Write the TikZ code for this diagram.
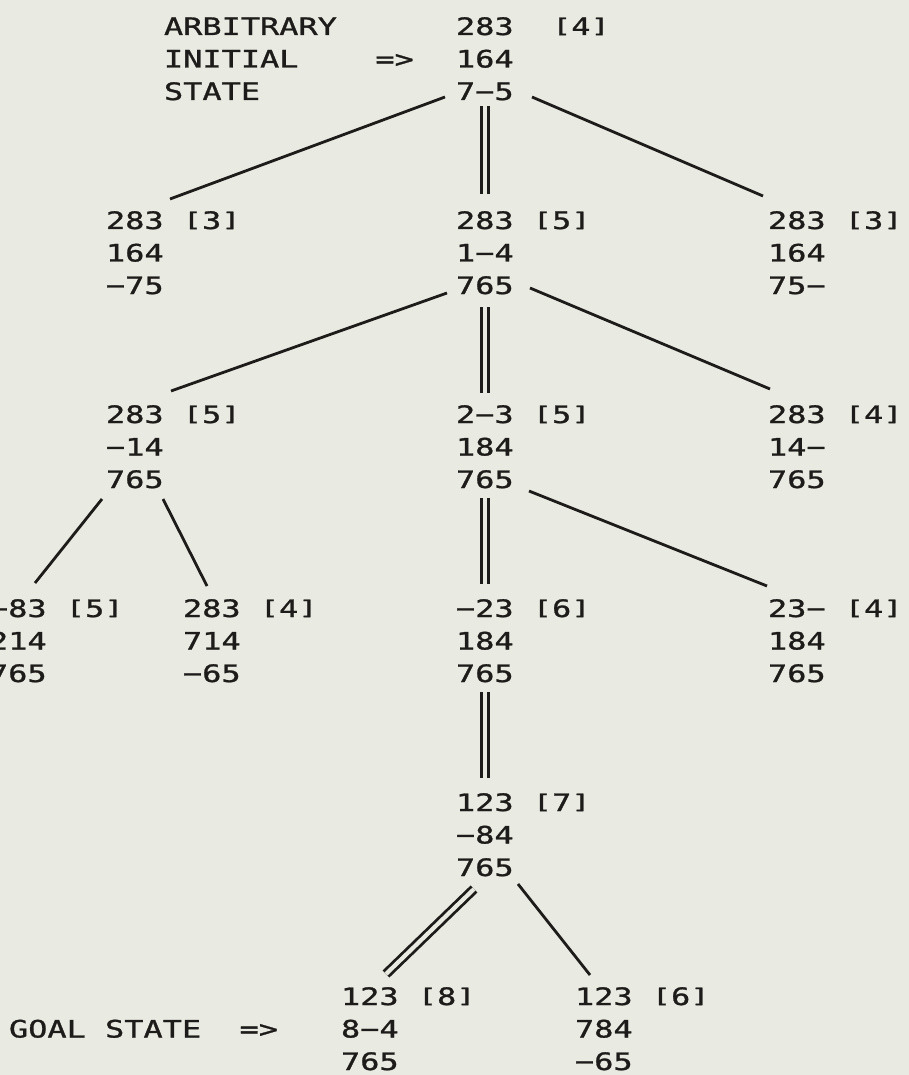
\documentclass[tikz,border=0pt]{standalone}
\usepackage{fontspec}
\usepackage{graphicx}
\newfontfamily\plotfont[FakeStretch=1.33,FakeBold=1.2]{DejaVu Sans Mono}
\definecolor{bgc}{RGB}{233,234,225}
\definecolor{ink}{RGB}{30,28,26}
\newcommand\plotstate[3]{\vtop{\baselineskip=32.5pt\lineskiplimit=-100pt\hbox{#1}\hbox{#2}\hbox{#3}}}
\newcommand\pLb{\raisebox{0.1em}{\scalebox{1}[0.82]{[}}}
\newcommand\pRb{\raisebox{0.1em}{\scalebox{1}[0.82]{]}}}
\newcommand\pScore[1]{\pLb#1\pRb}
\begin{document}
\begin{tikzpicture}[x=1pt,y=-1pt,
  state/.style={anchor=base west, inner sep=0pt, outer sep=0pt, text=ink,
    font={\plotfont\fontsize{24pt}{32.5pt}\selectfont}},
  link/.style={draw=ink, line width=2.8pt},
  dlink/.style={link, double=bgc, double distance=4.2pt}]
\fill[bgc] (0,0) rectangle (909,1075);
\useasboundingbox (0,0) rectangle (909,1075);

% labels
\node[state] (lblinit) at (164,35) {\plotstate{ARBITRARY}{INITIAL~~~~=>}{STATE}};
\node[state] (lblgoal) at (9,1037.5) {GOAL~STATE~~=>};

% states
\node[state] (s0) at (456,35)  {\plotstate{283~~\pScore4}{164}{7−5}};
\node[state] (a)  at (106,229) {\plotstate{283~\pScore3}{164}{−75}};
\node[state] (b)  at (456,229) {\plotstate{283~\pScore5}{1−4}{765}};
\node[state] (c)  at (768,229) {\plotstate{283~\pScore3}{164}{75−}};
\node[state] (d)  at (106,423) {\plotstate{283~\pScore5}{−14}{765}};
\node[state] (e)  at (456,423) {\plotstate{2−3~\pScore5}{184}{765}};
\node[state] (f)  at (768,423) {\plotstate{283~\pScore4}{14−}{765}};
\node[state] (g)  at (-11,617) {\plotstate{−83~\pScore5}{214}{765}};
\node[state] (h)  at (183,617) {\plotstate{283~\pScore4}{714}{−65}};
\node[state] (i)  at (456,617) {\plotstate{−23~\pScore6}{184}{765}};
\node[state] (j)  at (768,617) {\plotstate{23−~\pScore4}{184}{765}};
\node[state] (k)  at (456,811) {\plotstate{123~\pScore7}{−84}{765}};
\node[state] (l)  at (341,1005) {\plotstate{123~\pScore8}{8−4}{765}};
\node[state] (m)  at (575,1005) {\plotstate{123~\pScore6}{784}{−65}};

% connectors
\draw[link]  ([shift={(-11,62)}]s0.base west) -- ([shift={(64,-30)}]a.base west);
\draw[dlink] ([shift={(29,71)}]s0.base west)  -- ([shift={(29,-35)}]b.base west);
\draw[link]  ([shift={(76,62)}]s0.base west)  -- ([shift={(-5,-33)}]c.base west);

\draw[link]  ([shift={(-9,64)}]b.base west)   -- ([shift={(65,-32)}]d.base west);
\draw[dlink] ([shift={(29,78)}]b.base west)   -- ([shift={(29,-30)}]e.base west);
\draw[link]  ([shift={(74,59)}]b.base west)   -- ([shift={(2,-34)}]f.base west);

\draw[link]  ([shift={(-4,76)}]d.base west)   -- ([shift={(46,-34)}]g.base west);
\draw[link]  ([shift={(57,76)}]d.base west)   -- ([shift={(24,-31)}]h.base west);

\draw[dlink] ([shift={(29,75)}]e.base west)   -- ([shift={(29,-33)}]i.base west);
\draw[link]  ([shift={(73,68)}]e.base west)   -- ([shift={(-1,-31)}]j.base west);

\draw[dlink] ([shift={(29,75)}]i.base west)   -- ([shift={(29,-33)}]k.base west);

\draw[dlink] ([shift={(18,78)}]k.base west)   -- ([shift={(45,-31)}]l.base west);
\draw[link]  ([shift={(62,73)}]k.base west)   -- ([shift={(15,-30)}]m.base west);
\end{tikzpicture}
\end{document}
